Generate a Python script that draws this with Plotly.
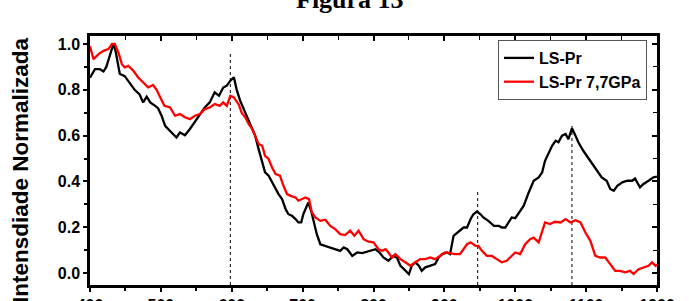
import plotly.graph_objects as go

# LS-Pr (black)
x_black = [400, 407, 414, 419, 423, 428, 433, 436, 440, 442, 449, 456, 463, 470, 475, 480, 485, 492, 496,
           501, 506, 513, 517, 522, 527, 534, 541, 548, 555, 562, 569, 576, 582, 588, 593, 598, 603,
           607, 612, 617, 622, 626, 633, 638, 643, 647, 652, 657, 662, 666, 671, 676, 680, 685, 690,
           694, 698, 701, 705, 708, 712, 716, 720, 725, 732, 739, 746, 753, 758, 763, 770, 777, 784,
           791, 798, 803, 809, 814, 821, 828, 833, 838, 843, 850, 854, 859, 864, 868, 873, 880, 887,
           892, 897, 904, 908, 913, 918, 922, 927, 932, 937, 941, 946, 951, 955, 962, 970, 977, 981,
           986, 991, 995, 1000, 1005, 1012, 1019, 1026, 1033, 1038, 1042, 1047, 1052, 1057, 1061,
           1066, 1071, 1075, 1080, 1085, 1089, 1096, 1104, 1111, 1115, 1122, 1129, 1134, 1139, 1144,
           1151, 1158, 1165, 1169, 1176, 1181, 1188, 1195, 1200]
y_black = [0.853, 0.89, 0.89, 0.88, 0.90, 0.95, 1.0, 0.97, 0.905, 0.87, 0.86, 0.83, 0.80, 0.78, 0.745, 0.77,
           0.745, 0.73, 0.72, 0.687, 0.643, 0.62, 0.607, 0.592, 0.614, 0.602, 0.629, 0.66, 0.687,
           0.723, 0.745, 0.789, 0.774, 0.81, 0.818, 0.84, 0.855, 0.80, 0.752, 0.716, 0.68, 0.65, 0.60,
           0.54, 0.483, 0.44, 0.425, 0.396, 0.367, 0.345, 0.323, 0.279, 0.257, 0.25, 0.236, 0.221,
           0.221, 0.257, 0.286, 0.308, 0.272, 0.214, 0.17, 0.126, 0.119, 0.112, 0.104, 0.097, 0.112,
           0.104, 0.075, 0.09, 0.087, 0.093, 0.097, 0.104, 0.088, 0.068, 0.054, 0.075, 0.068, 0.032,
           0.017, -0.005, 0.032, 0.047, 0.032, 0.01, 0.025, 0.032, 0.039, 0.068, 0.083, 0.09, 0.083,
           0.163, 0.177, 0.185, 0.199, 0.199, 0.236, 0.257, 0.269, 0.257, 0.243, 0.228, 0.206, 0.206,
           0.199, 0.199, 0.221, 0.243, 0.24, 0.262, 0.294, 0.352, 0.403, 0.418, 0.44, 0.49, 0.527,
           0.556, 0.578, 0.571, 0.60, 0.607, 0.585, 0.632, 0.60, 0.571, 0.534, 0.498, 0.468, 0.454,
           0.418, 0.403, 0.367, 0.359, 0.381, 0.396, 0.403, 0.403, 0.413, 0.374, 0.389, 0.403, 0.418,
           0.421]

# LS-Pr 7,7GPa (red)
x_red = [400, 405, 412, 419, 426, 431, 435, 440, 445, 449, 454, 461, 468, 475, 482, 489, 494, 498, 505,
         513, 520, 527, 534, 541, 548, 555, 562, 569, 576, 583, 588, 593, 598, 603, 610, 614, 619,
         624, 629, 633, 638, 643, 647, 652, 657, 662, 668, 673, 678, 683, 690, 694, 699, 704, 709,
         713, 718, 725, 732, 739, 746, 753, 760, 767, 773, 779, 786, 793, 800, 807, 812, 817, 821,
         826, 831, 838, 845, 852, 859, 866, 873, 880, 887, 894, 901, 908, 915, 922, 927, 932, 937,
         944, 948, 953, 960, 967, 974, 981, 988, 993, 1000, 1007, 1014, 1021, 1026, 1033, 1038,
         1042, 1049, 1056, 1064, 1071, 1078, 1085, 1092, 1099, 1106, 1113, 1120, 1127, 1134, 1141,
         1148, 1155, 1162, 1167, 1174, 1181, 1188, 1193, 1198, 1200]
y_red = [0.99, 0.934, 0.956, 0.97, 0.978, 1.0, 1.0, 0.963, 0.912, 0.898, 0.905, 0.884, 0.854, 0.832,
         0.811, 0.821, 0.80, 0.774, 0.73, 0.723, 0.687, 0.694, 0.68, 0.672, 0.687, 0.694, 0.716,
         0.723, 0.738, 0.73, 0.745, 0.73, 0.774, 0.767, 0.735, 0.70, 0.68, 0.65, 0.629, 0.60, 0.563,
         0.556, 0.512, 0.498, 0.46, 0.432, 0.425, 0.381, 0.345, 0.337, 0.33, 0.316, 0.323, 0.33,
         0.323, 0.265, 0.243, 0.228, 0.233, 0.206, 0.192, 0.17, 0.166, 0.185, 0.163, 0.185, 0.148,
         0.137, 0.134, 0.104, 0.097, 0.104, 0.09, 0.068, 0.083, 0.061, 0.047, 0.032, 0.047, 0.061,
         0.061, 0.068, 0.061, 0.075, 0.09, 0.087, 0.083, 0.083, 0.104, 0.126, 0.134, 0.119, 0.119,
         0.097, 0.075, 0.075, 0.061, 0.047, 0.054, 0.068, 0.09, 0.083, 0.126, 0.148, 0.155, 0.134,
         0.185, 0.221, 0.214, 0.224, 0.221, 0.236, 0.221, 0.231, 0.221, 0.177, 0.141, 0.075, 0.068,
         0.068, 0.039, 0.01, 0.01, 0.003, 0.01, -0.004, 0.017, 0.025, 0.032, 0.047, 0.032, 0.039]

# dotted guide lines: x position and top value
peak_x = [598, 947, 1080]
peak_top = [0.956, 0.359, 0.65]

x_range = [400, 1200]
y_range = [-0.052, 1.035]
x_tickvals = [400, 500, 600, 700, 800, 900, 1000, 1100, 1200]
y_tickvals = [0.0, 0.2, 0.4, 0.6, 0.8, 1.0]

fig = go.Figure()
for px_, pt in zip(peak_x, peak_top):
    fig.add_trace(go.Scatter(x=[px_, px_], y=[y_range[0], pt], mode="lines",
                             line=dict(color="black", width=1, dash="dot"),
                             showlegend=False, hoverinfo="skip"))

fig.add_trace(go.Scatter(x=x_black, y=y_black, mode="lines", name="LS-Pr",
                         line=dict(color="black", width=2.3), legendgroup="a"))
fig.add_trace(go.Scatter(x=x_red, y=y_red, mode="lines", name="LS-Pr 7,7GPa",
                         line=dict(color="#ff0000", width=2.3), legendgroup="b"))
# invisible trace to host top/right mirrored axes
fig.add_trace(go.Scatter(x=[None], y=[None], xaxis="x2", yaxis="y2", showlegend=False))

tickfont = dict(family="Arial, Liberation Sans", size=16, color="black", weight="bold")
fig.update_layout(
    width=691, height=301,
    margin=dict(l=90, r=34, t=36, b=16, autoexpand=False),
    paper_bgcolor="white", plot_bgcolor="white",
    font=dict(family="Arial, Liberation Sans", color="black"),
    xaxis=dict(range=x_range, tickvals=x_tickvals, ticks="outside", ticklen=4, tickwidth=2,
               tickcolor="black", showline=True, linewidth=2.5, linecolor="black", automargin=False,
               showgrid=False, zeroline=False, tickfont=tickfont,
               minor=dict(dtick=50, tick0=400, ticks="outside", ticklen=3, tickwidth=1.5, tickcolor="black")),
    yaxis=dict(range=y_range, tickvals=y_tickvals, tickformat=".1f", ticks="outside", ticklen=4,
               tickwidth=2, tickcolor="black", showline=True, linewidth=2.5, linecolor="black",
               automargin=False, showgrid=False, zeroline=False, tickfont=tickfont,
               minor=dict(dtick=0.1, tick0=0, ticks="outside", ticklen=3, tickwidth=1.5, tickcolor="black")),
    xaxis2=dict(range=x_range, overlaying="x", side="top", tickvals=x_tickvals, ticks="inside",
                ticklen=5, tickwidth=1.5, tickcolor="black", showticklabels=False, showline=True,
                linewidth=2.5, linecolor="black", showgrid=False, zeroline=False, automargin=False,
                minor=dict(dtick=50, tick0=400, ticks="inside", ticklen=4, tickwidth=1, tickcolor="black")),
    yaxis2=dict(range=y_range, overlaying="y", side="right", tickvals=y_tickvals, ticks="inside",
                ticklen=5, tickwidth=1.5, tickcolor="black", showticklabels=False, showline=True,
                linewidth=2.5, linecolor="black", showgrid=False, zeroline=False, automargin=False,
                minor=dict(dtick=0.1, tick0=0, ticks="inside", ticklen=4, tickwidth=1, tickcolor="black")),
    legend=dict(x=(647 - 90) / 567, y=(285 - 40) / 249, xanchor="right", yanchor="top", bgcolor="white",
                bordercolor="#555", borderwidth=1, traceorder="grouped", tracegroupgap=0,
                font=dict(family="Arial, Liberation Sans", size=16, color="black", weight="bold")),
    showlegend=True,
)
fig.add_annotation(text="<b>Figura 13</b>", xref="paper", yref="paper", x=(350 - 90) / 567,
                   y=1 + (36 - 16) / 249, xanchor="center", yanchor="bottom", showarrow=False,
                   font=dict(family="Liberation Serif, Times New Roman", size=26, color="black"))
fig.add_annotation(text="<b>Intensdiade Normalizada</b>", xref="paper", yref="paper",
                   x=(20 - 90) / 567, y=(285 - 170) / 249, textangle=-90, xanchor="center",
                   yanchor="middle", showarrow=False,
                   font=dict(family="Arial, Liberation Sans", size=22.5, color="black"))

fig.write_html("out.html", config={"displayModeBar": False},
               post_script="document.body.style.margin='0px';")
